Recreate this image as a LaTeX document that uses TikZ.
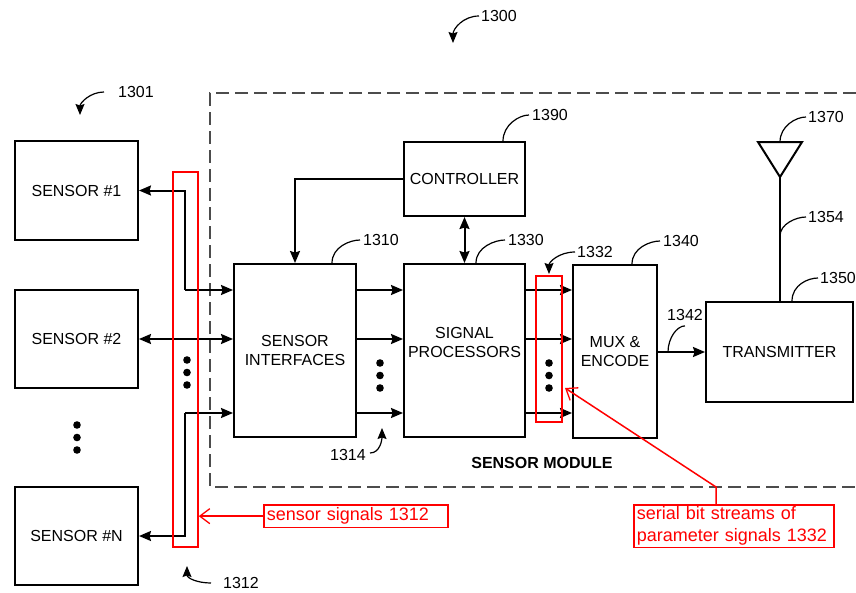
\documentclass[tikz,border=0pt]{standalone}
\usepackage{fontspec}
\setmainfont{Liberation Sans}
\usetikzlibrary{arrows.meta}
\begin{document}
\begin{tikzpicture}[x=1pt,y=-1pt,
  box/.style={draw, line width=2pt, inner sep=0pt, align=center, font=\fontsize{16pt}{19pt}\selectfont},
  txt/.style={inner sep=0pt, align=center, font=\fontsize{16pt}{19pt}\selectfont},
  conn/.style={line width=2pt},
  tipr/.style={-{Stealth[length=12pt,width=10pt,inset=1.5pt]}},
  tipl/.style={{Stealth[length=12pt,width=10pt,inset=1.5pt]}-},
  tipb/.style={{Stealth[length=12pt,width=10pt,inset=1.5pt]}-{Stealth[length=12pt,width=10pt,inset=1.5pt]}},
  lead/.style={line width=1.2pt},
  leadarr/.style={line width=1.2pt, -{Stealth[length=11pt,width=9pt,inset=1.5pt]}},
  lbl/.style={inner sep=0pt, anchor=west, font=\fontsize{16pt}{18pt}\selectfont},
  dotc/.style={fill=black},
  modbox/.style={line width=2.3pt, black!70, dash pattern=on 13pt off 6pt},
  redbox/.style={draw=red, line width=1.5pt, inner sep=0pt},
  redlbl/.style={draw=red, line width=1.5pt, text=red, inner sep=3pt, align=left,
     font=\fontsize{18pt}{22pt}\selectfont, anchor=north west},
  redarr/.style={red, line width=1.5pt, -{Straight Barb[length=10pt,width=15pt,line width=1.3pt]}}
]
\useasboundingbox (0,0) rectangle (856,592);

% module boundary
\draw[modbox] (856,93) -- (210,93) -- (210,487) -- (856,487);

% sensors
\node[box, minimum width=123pt, minimum height=99pt] (s1) at (76.5,190.5) {SENSOR \#1};
\node[box, minimum width=123pt, minimum height=98pt] (s2) at (76.5,339) {SENSOR \#2};
\node[box, minimum width=123pt, minimum height=98pt] (sN) at (76.5,536) {SENSOR \#N};
\foreach \y in {425,437.5,450} \fill[dotc] (77,\y) circle (3.8);

% blocks
\node[box, minimum width=122pt, minimum height=173pt] (si) at (295,350.5) {SENSOR\\INTERFACES};
\node[box, minimum width=121pt, minimum height=173pt] (sp) at (464.5,350.5) {};
\node[txt] (sptxt) at ([yshift=8.5pt]sp.center) {SIGNAL\\PROCESSORS};
\node[box, minimum width=121pt, minimum height=74pt] (ctrl) at (464.5,179) {CONTROLLER};
\node[box, minimum width=84pt, minimum height=173pt] (mux) at (615,351.5) {MUX \&\\ENCODE};
\node[box, minimum width=147pt, minimum height=100pt] (tx) at (779.5,352) {TRANSMITTER};

% row coordinates
\coordinate (r1) at (0,290);
\coordinate (r3) at (0,413);
\coordinate (bus1) at (185,290);
\coordinate (busN) at (185,413);

% sensor connections
\draw[conn, tipl] (s1.east) -| (bus1);
\draw[conn, tipr] (bus1) -- (si.west |- r1);
\draw[conn, tipb] (s2.east) -- (si.west |- s2.east);
\draw[conn, tipl] (sN.east) -| (busN);
\draw[conn, tipr] (busN) -- (si.west |- r3);
\foreach \y in {360,372.5,385} \fill[dotc] (187,\y) circle (3.8);

% SI -> SP
\draw[conn, tipr] (si.east |- r1) -- (sp.west |- r1);
\draw[conn, tipr] (si.east |- s2.east) -- (sp.west |- s2.east);
\draw[conn, tipr] (si.east |- r3) -- (sp.west |- r3);
\foreach \y in {363,375.5,388} \fill[dotc] (380,\y) circle (3.8);

% SP -> MUX
\draw[conn, tipr] (sp.east |- r1) -- (mux.west |- r1);
\draw[conn, tipr] (sp.east |- s2.east) -- (mux.west |- s2.east);
\draw[conn, tipr] (sp.east |- r3) -- (mux.west |- r3);
\foreach \y in {363,375.5,388} \fill[dotc] (549,\y) circle (3.8);

% controller
\draw[conn, tipr] (ctrl.west) -| (si.north);
\draw[conn, tipb] (ctrl.south) -- (sp.north);

% MUX -> TX
\draw[conn, tipr] (mux.east |- tx.west) -- (tx.west);

% antenna
\coordinate (ant) at (780,177);
\draw[line width=2pt, line join=miter] (758,142) -- (802,142) -- (ant) -- cycle;
\draw[conn] (ant) -- (tx.north -| ant);

% labels
\node[lbl] (l1300) at (481,16) {1300};
\draw[leadarr] ([xshift=-2pt]l1300.west) .. controls +(-16,0) and +(0,-14) .. (453,43);
\node[lbl] (l1301) at (118,92) {1301};
\draw[leadarr] ([xshift=-14pt]l1301.west) .. controls +(-14,0) and +(0,-12) .. (80,115);
\node[lbl] (l1390) at (532,115) {1390};
\draw[lead] ([xshift=38.5pt]ctrl.north) .. controls +(0,-16) and +(-10,0) .. ([xshift=-3pt]l1390.west);
\node[lbl] (l1310) at (363,240) {1310};
\draw[lead] ([xshift=37pt]si.north) .. controls +(0,-16) and +(-10,0) .. ([xshift=-3pt]l1310.west);
\node[lbl] (l1330) at (508,240) {1330};
\draw[lead] ([xshift=11.5pt]sp.north) .. controls +(0,-16) and +(-10,0) .. ([xshift=-3pt]l1330.west);
\node[lbl] (l1340) at (663,241) {1340};
\draw[lead] ([xshift=17pt]mux.north) .. controls +(0,-16) and +(-10,0) .. ([xshift=-3pt]l1340.west);
\node[lbl] (l1332) at (577,252) {1332};
\draw[leadarr] ([xshift=-2pt]l1332.west) .. controls +(-16,0) and +(0,-12) .. (549,274);
\node[lbl] (l1342) at (667,315) {1342};
\draw[lead] (668,352) .. controls +(0,-14) and +(-8,0) .. ([yshift=-5pt]l1342.south);
\node[lbl] (l1370) at (808,117) {1370};
\draw[lead] (780,142) .. controls +(0,-16) and +(-10,0) .. ([xshift=-2pt]l1370.west);
\node[lbl] (l1354) at (808,217) {1354};
\draw[lead] (780,236) .. controls +(0,-12) and +(-10,0) .. ([xshift=-2pt]l1354.west);
\node[lbl] (l1350) at (820,278) {1350};
\draw[lead] ([xshift=12.5pt]tx.north) .. controls +(0,-16) and +(-10,0) .. ([xshift=-2pt]l1350.west);
\node[lbl] (l1314) at (330,455) {1314};
\draw[leadarr] ([xshift=4pt,yshift=2pt]l1314.east) .. controls +(10,0) and +(0,12) .. (382,428);
\node[lbl] (l1312) at (223,583) {1312};
\draw[leadarr] ([xshift=-12pt]l1312.west) .. controls +(-14,0) and +(0,12) .. (187,566);

\node[inner sep=0pt, font=\bfseries\fontsize{16pt}{18pt}\selectfont] (modlbl) at (542,463) {SENSOR MODULE};

% red annotations
\node[redbox, minimum width=25pt, minimum height=375pt] (rb1) at (185.5,359.5) {};
\node[redbox, minimum width=26pt, minimum height=146pt] (rb2) at (549,349) {};
\node[redlbl, text width=178pt] (rl1) at (263,504) {sensor signals 1312};
\draw[redarr] (rl1.west) -- (rb1.east |- rl1.west);
\node[redlbl, text width=194pt, inner ysep=2pt] (rl2) at (633,504) {serial bit streams of\\parameter signals 1332};
\coordinate (rbend) at (716,487);
\coordinate (rtip) at (565,388);
\draw[redarr] (rl2.north -| rbend) -- (rbend) -- (rtip);
\end{tikzpicture}
\end{document}
